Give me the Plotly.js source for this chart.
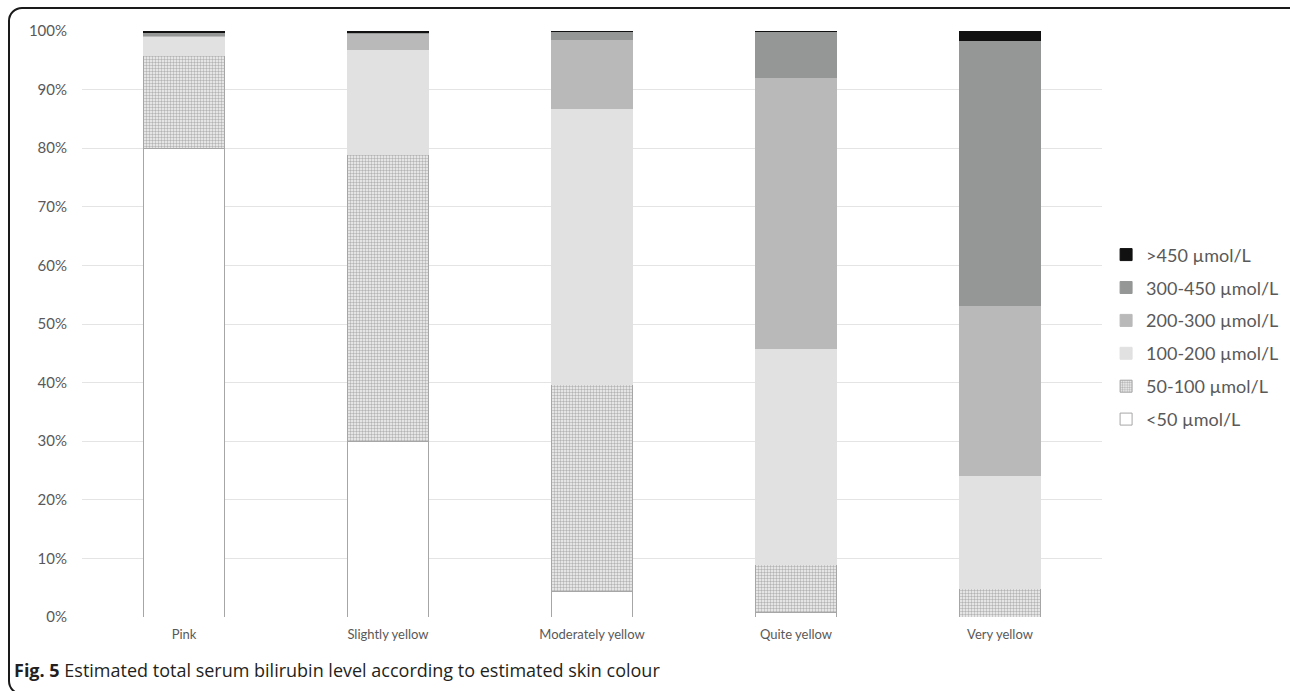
<!DOCTYPE html>
<html>
<head>
<meta charset="utf-8">
<script src="https://cdn.plot.ly/plotly-3.0.1.min.js"></script>
<style>
  html, body { margin: 0; padding: 0; background: #ffffff; overflow: hidden; }
  #wrap { position: relative; width: 1290px; height: 691px; }
  #chart { position: absolute; left: 0; top: 0; width: 1290px; height: 691px; }
  #frame { position: absolute; left: 8px; top: 7px; width: 1320px; height: 684px;
           border: 2px solid #1a1a1a; border-radius: 14px; pointer-events: none; }
</style>
</head>
<body>
<div id="wrap">
  <div id="chart"></div>
  <div id="frame"></div>
</div>
<script>
// Categories (skin colour)
const categories = ['Pink', 'Slightly yellow', 'Moderately yellow', 'Quite yellow', 'Very yellow'];

// Series values (% of infants in each bilirubin band)
const lt50     = [80.0, 29.9, 4.4, 0.7, 0.0];
const b50_100  = [15.9, 49.1, 35.2, 8.3, 4.8];
const b100_200 = [3.1, 17.8, 47.1, 36.9, 19.4];
const b200_300 = [0.3, 2.7, 11.9, 46.1, 29.0];
const b300_450 = [0.4, 0.2, 1.4, 8.0, 45.1];
const gt450    = [0.3, 0.3, 0.0, 0.0, 1.7];

// Series names
const seriesNames = ['<50 µmol/L', '50-100 µmol/L', '100-200 µmol/L', '200-300 µmol/L', '300-450 µmol/L', '>450 µmol/L'];

// Tick labels
const yTickVals = [0, 10, 20, 30, 40, 50, 60, 70, 80, 90, 100];
const yTickText = ['0%', '10%', '20%', '30%', '40%', '50%', '60%', '70%', '80%', '90%', '100%'];

const caption = '<b>Fig. 5</b> Estimated total serum bilirubin level according to estimated skin colour';

const seriesValues = [lt50, b50_100, b100_200, b200_300, b300_450, gt450];
const fills = ['#ffffff', '#ffffff', '#e1e1e1', '#b9b9b9', '#959796', '#111111'];
const lines = ['#a6a6a6', '#a6a6a6', '#e1e1e1', '#b9b9b9', '#959796', '#111111'];

const traces = seriesValues.map((vals, i) => {
  const marker = { color: fills[i], line: { color: lines[i], width: 1 } };
  if (i === 1) {
    marker.pattern = { shape: '.', fgcolor: '#b4b4b4', bgcolor: '#f6f6f6', size: 3, solidity: 0.5 };
  }
  return {
    type: 'bar',
    name: seriesNames[i],
    x: categories,
    y: vals,
    marker: marker,
    legendgroup: 'g' + i,
    legendrank: 10 - i,
    hoverinfo: 'x+y+name'
  };
});

const layout = {
  width: 1290,
  height: 691,
  barmode: 'stack',
  bargap: 0.6,
  paper_bgcolor: '#ffffff',
  plot_bgcolor: '#ffffff',
  margin: { l: 82, r: 188, t: 31, b: 74, autoexpand: false },
  font: { family: 'Lato, "Liberation Sans", sans-serif', color: '#595959', size: 14 },
  xaxis: {
    showgrid: false,
    zeroline: false,
    showline: false,
    ticks: '',
    tickfont: { size: 13, color: '#595959' },
    ticklabelstandoff: 8
  },
  yaxis: {
    range: [0, 100],
    tickvals: yTickVals,
    ticktext: yTickText,
    showgrid: true,
    gridcolor: '#e4e4e4',
    gridwidth: 1,
    zeroline: false,
    showline: false,
    ticks: '',
    tickfont: { size: 15, color: '#595959' },
    ticklabelstandoff: 14
  },
  showlegend: true,
  legend: {
    x: 1.004,
    xanchor: 'left',
    y: 0.478,
    yanchor: 'middle',
    traceorder: 'grouped',
    tracegroupgap: 6.5,
    itemwidth: 30,
    font: { size: 18, color: '#595959' },
    bgcolor: 'rgba(0,0,0,0)'
  },
  annotations: [{
    text: caption,
    xref: 'paper', yref: 'paper',
    x: -0.0686, y: -0.0904,
    xanchor: 'left', yanchor: 'middle',
    showarrow: false,
    font: { family: '"Open Sans", "Noto Sans", sans-serif', size: 18, color: '#231f20' }
  }]
};

Plotly.newPlot('chart', traces, layout, { displayModeBar: false, staticPlot: true });
</script>
</body>
</html>
